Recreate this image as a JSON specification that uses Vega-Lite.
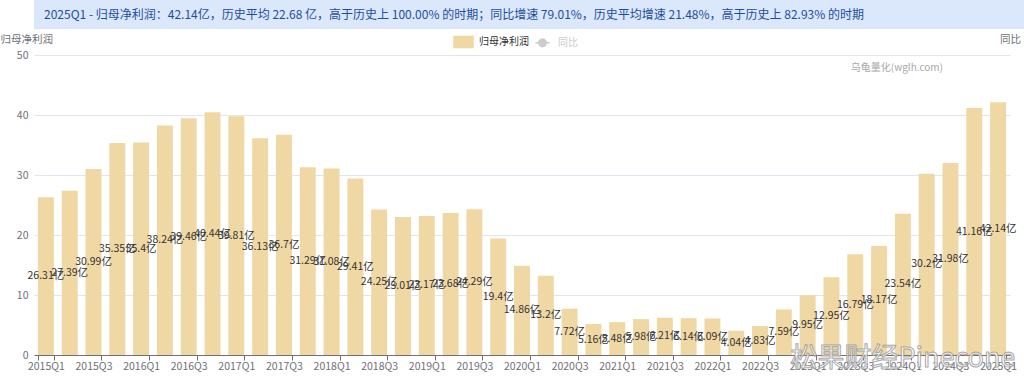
{
  "$schema": "https://vega.github.io/schema/vega-lite/v6.json",
  "padding": 0,
  "background": "#ffffff",
  "spacing": 2,
  "columns": 1,
  "align": "none",
  "resolve": {"scale": {"color": "independent"}, "legend": {"color": "independent"}},
  "config": {"font": "Noto Sans CJK SC", "view": {"stroke": null}},
  "concat": [
    {
      "width": 1024,
      "height": 29,
      "view": {"fill": "#dbe7fb", "stroke": null},
      "data": {"values": [{"t": "2025Q1 - 归母净利润：42.14亿，历史平均 22.68 亿，高于历史上 100.00% 的时期；同比增速 79.01%，历史平均增速 21.48%，高于历史上 82.93% 的时期"}]},
      "mark": {"type": "text", "align": "left", "baseline": "middle", "x": 10, "y": 15, "fontSize": 12, "color": "#1d4e9e"},
      "encoding": {"text": {"field": "t", "type": "nominal"}}
    },
    {
      "width": 976,
      "height": 300,
      "data": {"values": [
        {"q": "2015Q1", "v": 26.31}, {"q": "2015Q2", "v": 27.39}, {"q": "2015Q3", "v": 30.99}, {"q": "2015Q4", "v": 35.35},
        {"q": "2016Q1", "v": 35.4}, {"q": "2016Q2", "v": 38.24}, {"q": "2016Q3", "v": 39.46}, {"q": "2016Q4", "v": 40.44},
        {"q": "2017Q1", "v": 39.81}, {"q": "2017Q2", "v": 36.13}, {"q": "2017Q3", "v": 36.7}, {"q": "2017Q4", "v": 31.29},
        {"q": "2018Q1", "v": 31.08}, {"q": "2018Q2", "v": 29.41}, {"q": "2018Q3", "v": 24.25}, {"q": "2018Q4", "v": 23.01},
        {"q": "2019Q1", "v": 23.17}, {"q": "2019Q2", "v": 23.68}, {"q": "2019Q3", "v": 24.29}, {"q": "2019Q4", "v": 19.4},
        {"q": "2020Q1", "v": 14.86}, {"q": "2020Q2", "v": 13.2}, {"q": "2020Q3", "v": 7.72}, {"q": "2020Q4", "v": 5.16},
        {"q": "2021Q1", "v": 5.48}, {"q": "2021Q2", "v": 5.98}, {"q": "2021Q3", "v": 6.21}, {"q": "2021Q4", "v": 6.14},
        {"q": "2022Q1", "v": 6.09}, {"q": "2022Q2", "v": 4.04}, {"q": "2022Q3", "v": 4.83}, {"q": "2022Q4", "v": 7.59},
        {"q": "2023Q1", "v": 9.95}, {"q": "2023Q2", "v": 12.95}, {"q": "2023Q3", "v": 16.79}, {"q": "2023Q4", "v": 18.17},
        {"q": "2024Q1", "v": 23.54}, {"q": "2024Q2", "v": 30.2}, {"q": "2024Q3", "v": 31.98}, {"q": "2024Q4", "v": 41.16},
        {"q": "2025Q1", "v": 42.14}
      ]},
      "transform": [{"calculate": "datum.v + '亿'", "as": "label"}],
      "layer": [
        {
          "mark": {"type": "bar"},
          "encoding": {
            "x": {
              "field": "q", "type": "ordinal", "sort": null,
              "scale": {
                "domain": ["2015Q1","2015Q2","2015Q3","2015Q4","2016Q1","2016Q2","2016Q3","2016Q4","2017Q1","2017Q2","2017Q3","2017Q4","2018Q1","2018Q2","2018Q3","2018Q4","2019Q1","2019Q2","2019Q3","2019Q4","2020Q1","2020Q2","2020Q3","2020Q4","2021Q1","2021Q2","2021Q3","2021Q4","2022Q1","2022Q2","2022Q3","2022Q4","2023Q1","2023Q2","2023Q3","2023Q4","2024Q1","2024Q2","2024Q3","2024Q4","2025Q1"],
                "paddingInner": 0.33, "paddingOuter": 0.165
              },
              "axis": {
                "values": ["2015Q1","2015Q3","2016Q1","2016Q3","2017Q1","2017Q3","2018Q1","2018Q3","2019Q1","2019Q3","2020Q1","2020Q3","2021Q1","2021Q3","2022Q1","2022Q3","2023Q1","2023Q3","2024Q1","2024Q3","2025Q1"],
                "title": null, "labelAngle": 0, "labelOverlap": false, "labelColor": "#6e7079", "labelFontSize": 10.5,
                "labelPadding": 1, "domainColor": "#6e7079", "tickColor": "#6e7079", "tickSize": 5, "tickBand": "extent", "grid": false
              }
            },
            "y": {
              "field": "v", "type": "quantitative", "scale": {"domain": [0, 50]},
              "axis": {
                "values": [0, 10, 20, 30, 40, 50], "grid": true, "gridColor": "#e0e6f1", "domain": false, "ticks": false,
                "labelColor": "#6e7079", "labelFontSize": 10.5, "labelPadding": 6,
                "title": "\u2003归母净利润", "titleAngle": 0, "titleAlign": "left", "titleBaseline": "middle",
                "titleX": -34, "titleY": -16, "titleColor": "#6e7079", "titleFontWeight": "normal", "titleFontSize": 10.5
              }
            },
            "color": {
              "datum": "归母净利润", "type": "nominal",
              "scale": {"domain": ["归母净利润", "同比"], "range": ["#f0d8a4", "#cccccc"]},
              "legend": {
                "orient": "none", "legendX": 419, "legendY": -24, "direction": "horizontal", "title": null,
                "symbolSize": 361, "labelFontSize": 10, "labelColor": "#333333", "columnPadding": 3, "labelOffset": 5,
                "symbolStrokeWidth": 1.5,
                "encode": {
                  "symbols": {"update": {
                    "shape": {"signal": "datum.label === '同比' ? 'M-0.75,0L-0.4,0M0.4,0L0.75,0M0.4,0A0.4,0.4,0,1,1,-0.4,0A0.4,0.4,0,1,1,0.4,0' : 'M-1,-0.58L1,-0.58L1,0.58L-1,0.58Z'"},
                    "fill": {"signal": "datum.label === '同比' ? '#ffffff' : '#f0d8a4'"},
                    "stroke": {"signal": "datum.label === '同比' ? '#cccccc' : '#f0d8a4'"},
                    "opacity": {"value": 1}, "fillOpacity": {"value": 1}, "strokeOpacity": {"value": 1}
                  }},
                  "labels": {"update": {"fill": {"signal": "datum.label === '同比' ? '#cccccc' : '#333333'"}}}
                }
              }
            }
          }
        },
        {
          "mark": {"type": "text", "fontSize": 10.5, "color": "#333333", "baseline": "middle"},
          "encoding": {
            "x": {"field": "q", "type": "ordinal", "sort": null},
            "y": {"field": "v", "type": "quantitative", "scale": {"domain": [0, 100]}, "axis": null},
            "text": {"field": "label", "type": "nominal"}
          }
        },
        {
          "mark": {"type": "line", "opacity": 0},
          "encoding": {
            "x": {"field": "q", "type": "ordinal", "sort": null},
            "y": {
              "field": "v", "type": "quantitative", "scale": {"domain": [0, 50]},
              "axis": {
                "orient": "right", "labels": false, "ticks": false, "domain": false, "grid": false,
                "title": "同比", "titleAngle": 0, "titleAlign": "center", "titleBaseline": "middle",
                "titleX": 0, "titleY": -16, "titleColor": "#6e7079", "titleFontWeight": "normal", "titleFontSize": 10.5
              }
            },
            "color": {"datum": "同比", "type": "nominal"}
          }
        },
        {
          "data": {"values": [{"w": "乌龟量化(wglh.com)"}]},
          "mark": {"type": "text", "fontSize": 10, "color": "#a8a8a8", "align": "center", "baseline": "middle", "dx": -6},
          "encoding": {
            "x": {"datum": "2024Q1", "type": "ordinal"},
            "y": {"datum": 47.8, "type": "quantitative", "scale": {"domain": [0, 50]}, "axis": null},
            "text": {"field": "w", "type": "nominal"}
          }
        },
        {
          "data": {"values": [{"w": "松果财经Pinecone"}]},
          "mark": {"type": "text", "fontSize": 27, "fill": "#ffffff", "stroke": "#9a9a9a", "strokeWidth": 1, "opacity": 0.85, "align": "center", "baseline": "middle"},
          "encoding": {
            "x": {"datum": "2024Q1", "type": "ordinal"},
            "y": {"datum": -0.7, "type": "quantitative", "scale": {"domain": [0, 50]}, "axis": null},
            "text": {"field": "w", "type": "nominal"}
          }
        }
      ],
      "resolve": {"scale": {"y": "independent"}}
    }
  ]
}
